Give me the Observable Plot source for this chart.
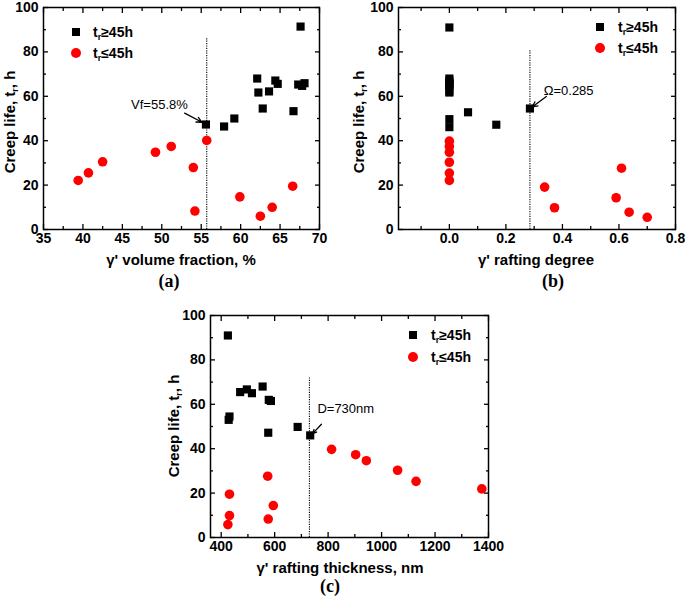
<!DOCTYPE html>
<html><head><meta charset="utf-8">
<script src="https://cdn.jsdelivr.net/npm/d3@7"></script>
<script src="https://cdn.jsdelivr.net/npm/@observablehq/plot@0.6"></script>
<style>
body{margin:0;background:#fff;}
#root{position:relative;width:685px;height:601px;background:#fff;font-family:Arial,"Liberation Sans",sans-serif;color:#000;overflow:hidden;}
.panel{position:absolute;}
.lbl{position:absolute;font-weight:bold;font-size:15px;white-space:nowrap;transform:translate(-50%,-50%);}
.ylbl{position:absolute;font-weight:bold;font-size:15px;white-space:nowrap;transform:translate(-50%,-50%) rotate(-90deg);}
.cap{position:absolute;font-family:"Liberation Serif","Times New Roman",serif;font-weight:bold;font-size:18px;transform:translate(-50%,-50%);}
.leg{position:absolute;font-weight:bold;font-size:14px;white-space:nowrap;transform:translateY(-50%);}
.sq{position:absolute;width:8px;height:8px;background:#000;transform:translate(-50%,-50%);}
.ci{position:absolute;width:10px;height:10px;border-radius:50%;background:#f00;transform:translate(-50%,-50%);}
sub{font-size:9px;vertical-align:-3px;line-height:0;}
</style></head>
<body><div id="root"></div>
<script>
// ---------- data ----------
// panel (a): gamma' volume fraction (%)
const vfLong = [55.6,57.9,59.2,62.1,62.25,62.8,63.6,64.4,64.7,66.7,67.3,67.6,67.8,68.1];
const lifeLongA = [47.3,46.4,50,68,61.7,54.5,62.2,67.1,65.6,53.3,65.3,91.4,64.7,65.9];
const vfShort = [39.4,40.7,42.5,49.2,51.2,54.0,54.2,55.7,59.9,62.5,64.0,66.6];
const lifeShortA = [22.1,25.5,30.5,34.8,37.4,27.9,8.3,40.1,14.7,6,10,19.5];
// panel (b): gamma' rafting degree
const omegaLong = [0,0,0,0,0,0,0,0,0,0,0,0.066,0.166,0.285];
const lifeLongB = [91,68,67.1,65.9,65.6,65.3,64.7,62.2,61.7,49.7,46.1,52.8,47.2,54.5];
const omegaShort = [0,0,0,0,0,0,0.337,0.372,0.59,0.609,0.636,0.70];
const lifeShortB = [39.8,37.4,34.8,30.3,25.4,22.1,19.1,9.8,14.3,27.6,7.8,5.5];
// panel (c): gamma' rafting thickness (nm)
const thickLong = [428,431,425,471,496,515,555,578,586,576,686,733];
const lifeLongC = [53,54.5,91,65.5,66.7,65,68,62,61.5,47.2,49.8,46];
const thickShort = [425,431,431,574,576,595,813,903,943,1060,1129,1375];
const lifeShortC = [5.8,9.9,19.5,27.6,8.3,14.4,39.7,37.3,34.6,30.3,25.3,21.9];

// thresholds and annotations
const thresholdA = {x:55.7, top:86.5, text:"Vf=55.8%", tx:49.7, ty:56.3, ax1:52.9, ay1:52.4, ax2:55.1, ay2:48.3};
const thresholdB = {x:0.285, top:80.5, text:"Ω=0.285", tx:0.422, ty:62.6, ax1:0.343, ay1:59.9, ax2:0.293, ay2:55.2};
const thresholdC = {x:730, top:72, text:"D=730nm", tx:866, ty:57.8, ax1:775, ay1:51, ax2:742, ay2:46.8};

// ticks
const yTicks = [0,20,40,60,80,100];
const yMinor = [10,30,50,70,90];
const xTicksA = [35,40,45,50,55,60,65,70];
const xMinorA = [37.5,42.5,47.5,52.5,57.5,62.5,67.5];
const xTicksB = [0,0.2,0.4,0.6,0.8];
const xMinorB = [-0.1,0.1,0.3,0.5,0.7];
const xTicksC = [400,600,800,1000,1200,1400];
const xMinorC = [500,700,900,1100,1300];

const seriesLong = "t<sub>r</sub>≥45h";
const seriesShort = "t<sub>r</sub>≤45h";
const yTitle = "Creep life, t<sub>r</sub>, h";

// ---------- drawing ----------
const root = document.getElementById("root");

function panel(cfg){
  const {xDomain, xTicks, xMinor, xFmt, xl, yl, xs, ys, th, w, h, m, left, top} = cfg;
  const inward = (ticks, size) => [
    Plot.axisX(ticks,{anchor:"bottom", tickSize:size, dy:-size, text:null, label:null, strokeWidth:1.3}),
    Plot.axisX(ticks,{anchor:"top", tickSize:size, dy:size, text:null, label:null, strokeWidth:1.3})
  ];
  const inwardY = (ticks, size) => [
    Plot.axisY(ticks,{anchor:"left", tickSize:size, dx:size, text:null, label:null, strokeWidth:1.3}),
    Plot.axisY(ticks,{anchor:"right", tickSize:size, dx:-size, text:null, label:null, strokeWidth:1.3})
  ];
  const chart = Plot.plot({
    width:w, height:h,
    marginLeft:m[0], marginRight:m[1], marginTop:m[2], marginBottom:m[3],
    style:{fontFamily:"Arial, 'Liberation Sans', sans-serif", fontSize:"14px", fontWeight:"bold", color:"#000", background:"transparent", overflow:"visible"},
    x:{domain:xDomain, label:null},
    y:{domain:[0,100], label:null},
    marks:[
      ...inward(xTicks,5), ...inward(xMinor,3),
      ...inwardY(yTicks,5), ...inwardY(yMinor,3),
      Plot.axisX(xTicks,{anchor:"bottom", tickSize:0, tickPadding:4, label:null, tickFormat:xFmt}),
      Plot.axisY(yTicks,{anchor:"left", tickSize:0, tickPadding:5, label:null}),
      Plot.ruleX([th],{x:"x", y1:0, y2:"top", stroke:"#000", strokeWidth:1.1, strokeDasharray:"1.2,1.2"}),
      Plot.dot(xl,{x:xl, y:yl, symbol:"square", r:4.6, fill:"#000", stroke:"none"}),
      Plot.dot(xs,{x:xs, y:ys, symbol:"circle", r:4.8, fill:"#ff0000", stroke:"none"}),
      Plot.arrow([th],{x1:"ax1", y1:"ay1", x2:"ax2", y2:"ay2", stroke:"#000", strokeWidth:1.3, headLength:7, headAngle:50}),
      Plot.text([th],{x:"tx", y:"ty", text:"text", fontSize:13, fontWeight:"normal", fill:"#000"}),
      Plot.frame({stroke:"#000", strokeWidth:1.5})
    ]
  });
  chart.classList.add("panel");
  chart.style.left = left+"px";
  chart.style.top = top+"px";
  root.appendChild(chart);
}

function html(cls, x, y, content){
  const d = document.createElement("div");
  d.className = cls;
  d.style.left = x+"px"; d.style.top = y+"px";
  d.innerHTML = content;
  root.appendChild(d);
}

panel({xDomain:[35,70], xTicks:xTicksA, xMinor:xMinorA, xFmt:d3.format("d"),
  xl:vfLong, yl:lifeLongA, xs:vfShort, ys:lifeShortA, th:thresholdA,
  w:340, h:265, m:[43,21,7,36], left:0, top:0});
panel({xDomain:[-0.18,0.8], xTicks:xTicksB, xMinor:xMinorB, xFmt:d3.format(".1f"),
  xl:omegaLong, yl:lifeLongB, xs:omegaShort, ys:lifeShortB, th:thresholdB,
  w:340, h:265, m:[53,10,7,36], left:345, top:0});
panel({xDomain:[360,1400], xTicks:xTicksC, xMinor:xMinorC, xFmt:d3.format("d"),
  xl:thickLong, yl:lifeLongC, xs:thickShort, ys:lifeShortC, th:thresholdC,
  w:345, h:275, m:[50,17,15,38], left:160, top:300});

// axis titles
html("ylbl", 9, 122, yTitle);
html("ylbl", 358, 122, yTitle);
html("ylbl", 173, 426, yTitle);
html("lbl", 181, 259, "γ' volume fraction, %");
html("lbl", 536, 259, "γ' rafting degree");
html("lbl", 340, 567, "γ' rafting thickness, nm");
html("cap", 169, 281, "(a)");
html("cap", 553, 281, "(b)");
html("cap", 330, 586, "(c)");

// legends
const legends = [[76,32,53,93],[600,27,48,618],[413,335,357,431]];
legends.forEach(([sx,y1,y2,tx])=>{
  html("sq", sx, y1, "");
  html("ci", sx, y2, "");
  html("leg", tx, y1, seriesLong);
  html("leg", tx, y2, seriesShort);
});
</script>
</body></html>
